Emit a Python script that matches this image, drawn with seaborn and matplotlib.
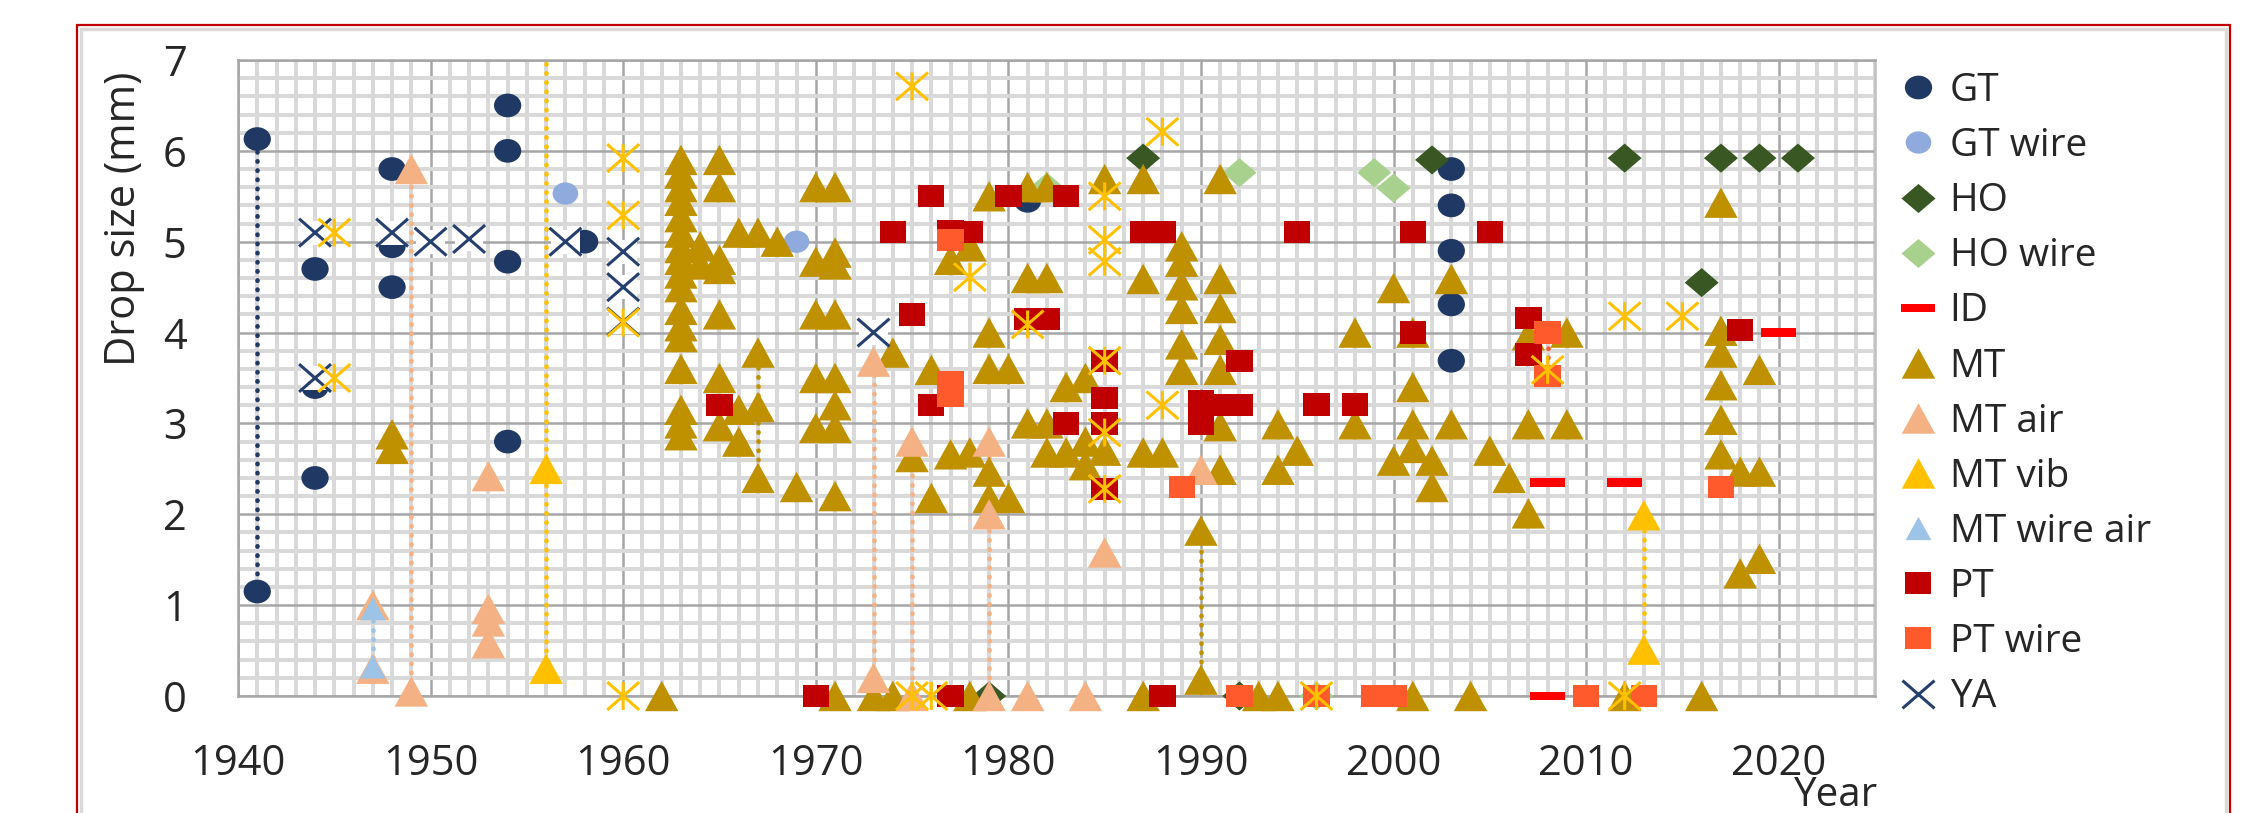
import numpy as np
import matplotlib
matplotlib.use("Agg")
import matplotlib.pyplot as plt
import seaborn as sns
from matplotlib.path import Path
from matplotlib.markers import MarkerStyle
from matplotlib.lines import Line2D
from matplotlib.patches import Rectangle
from matplotlib.ticker import MultipleLocator

# ---------------------------------------------------------------- data
GT_YEAR = [1941, 1941, 1944, 1944, 1944, 1948, 1948, 1948, 1954, 1954, 1954, 1954,
           1958, 1981, 2003, 2003, 2003, 2003, 2003]
GT_SIZE = [6.13, 1.15, 4.70, 3.40, 2.40, 5.80, 4.95, 4.50, 6.50, 6.00, 4.78, 2.80,
           5.00, 5.45, 5.80, 5.40, 4.90, 4.31, 3.69]

GT_WIRE_YEAR = [1957, 1969]
GT_WIRE_SIZE = [5.53, 5.00]

HO_YEAR = [1979, 1987, 1992, 2002, 2012, 2016, 2017, 2019, 2021]
HO_SIZE = [0.00, 5.92, 0.00, 5.90, 5.92, 4.55, 5.92, 5.92, 5.92]

HO_WIRE_YEAR = [1982, 1992, 1996, 1999, 2000]
HO_WIRE_SIZE = [5.60, 5.76, 0.00, 5.76, 5.59]

ID_YEAR = [2008, 2008, 2012, 2020]
ID_SIZE = [2.35, 0.00, 2.35, 4.00]

MT_YEAR = [1948, 1948, 1962,
           1963, 1963, 1963, 1963, 1963, 1963, 1963, 1963, 1963, 1963, 1963, 1963,
           1963, 1963, 1963, 1963, 1963,
           1964, 1964,
           1965, 1965, 1965, 1965, 1965, 1965, 1965,
           1966, 1966, 1966,
           1967, 1967, 1967, 1967,
           1968, 1969,
           1970, 1970, 1970, 1970, 1970,
           1971, 1971, 1971, 1971, 1971, 1971, 1971, 1971, 1971,
           1973, 1974, 1974, 1975, 1976, 1976, 1977, 1977, 1978, 1978, 1978,
           1979, 1979, 1979, 1979, 1979, 1980, 1980,
           1981, 1981, 1981, 1982, 1982, 1982, 1982, 1983, 1983,
           1984, 1984, 1984, 1985, 1985,
           1987, 1987, 1987, 1987, 1988,
           1989, 1989, 1989, 1989, 1989, 1989,
           1990, 1990,
           1991, 1991, 1991, 1991, 1991, 1991, 1991,
           1993, 1994, 1994, 1994, 1995,
           1998, 1998, 2000, 2000,
           2001, 2001, 2001, 2001, 2001,
           2002, 2002, 2003, 2003, 2004, 2005, 2006,
           2007, 2007, 2007, 2009, 2009, 2012, 2016,
           2017, 2017, 2017, 2017, 2017, 2017,
           2018, 2018, 2019, 2019, 2019]
MT_SIZE = [2.88, 2.72, 0.00,
           5.90, 5.75, 5.60, 5.45, 5.27, 5.10, 4.93, 4.80, 4.65, 4.50, 4.25, 4.07,
           3.95, 3.60, 3.15, 3.00, 2.87,
           4.95, 4.75,
           5.90, 5.60, 4.80, 4.70, 4.20, 3.50, 2.97,
           5.10, 3.15, 2.80,
           5.10, 3.78, 3.18, 2.40,
           5.00, 2.30,
           5.60, 4.78, 4.20, 3.50, 2.95,
           5.60, 4.88, 4.75, 4.20, 3.50, 3.20, 2.95, 2.20, 0.00,
           0.00, 3.78, 0.00, 2.63, 3.59, 2.18, 4.80, 2.66, 4.95, 2.68, 0.00,
           5.50, 4.00, 3.60, 2.47, 2.18, 3.60, 2.18,
           5.60, 4.60, 3.00, 5.60, 4.60, 3.00, 2.68, 3.40, 2.68,
           3.50, 2.80, 2.54, 5.69, 2.70,
           5.69, 4.59, 2.68, 0.00, 2.68,
           4.95, 4.78, 4.52, 4.26, 3.87, 3.59,
           1.82, 0.18,
           5.69, 4.59, 4.27, 3.92, 3.59, 2.97, 2.49,
           0.00, 2.99, 2.49, 0.00, 2.70,
           4.00, 2.99, 4.49, 2.59,
           4.00, 3.40, 2.99, 2.73, 0.00,
           2.59, 2.30, 4.59, 2.99, 0.00, 2.70, 2.40,
           3.97, 2.99, 2.01, 4.00, 2.99, 0.00, 0.00,
           5.43, 4.02, 3.78, 3.42, 3.04, 2.66,
           2.47, 1.35, 3.59, 2.47, 1.51]

MT_AIR_YEAR = [1947, 1947, 1949, 1949, 1953, 1953, 1953, 1953, 1973, 1973,
               1975, 1975, 1979, 1979, 1979, 1981, 1984, 1985, 1990]
MT_AIR_SIZE = [1.00, 0.30, 5.80, 0.05, 2.42, 0.96, 0.82, 0.58, 3.68, 0.20,
               2.80, 0.00, 2.80, 2.00, 0.00, 0.00, 0.00, 1.58, 2.49]

MT_VIB_YEAR = [1956, 1956, 2013, 2013]
MT_VIB_SIZE = [2.50, 0.30, 1.99, 0.51]

MT_WIRE_AIR_YEAR = [1947, 1947]
MT_WIRE_AIR_SIZE = [0.96, 0.32]

PT_YEAR = [1965, 1970, 1974, 1975, 1976, 1976, 1977, 1977, 1978, 1980, 1981, 1982,
           1983, 1983, 1985, 1985, 1985, 1985, 1987, 1988, 1988, 1990, 1990, 1991,
           1992, 1992, 1995, 1996, 1998, 2001, 2001, 2005, 2007, 2007, 2018]
PT_SIZE = [3.20, 0.00, 5.11, 4.20, 5.50, 3.20, 5.12, 0.00, 5.11, 5.50, 4.15, 4.15,
           5.50, 3.00, 3.69, 3.28, 3.00, 2.28, 5.11, 5.11, 0.00, 3.25, 3.00, 3.20,
           3.69, 3.20, 5.11, 3.21, 3.21, 5.11, 4.00, 5.11, 4.16, 3.76, 4.03]

PT_WIRE_YEAR = [1977, 1977, 1977, 1989, 1992, 1996, 1999, 2000, 2008, 2008, 2010, 2013, 2017]
PT_WIRE_SIZE = [5.02, 3.45, 3.30, 2.30, 0.00, 0.00, 0.00, 0.00, 4.00, 3.52, 0.00, 0.00, 2.30]

YA_YEAR = [1944, 1944, 1948, 1950, 1952, 1957, 1960, 1960, 1960, 1973]
YA_SIZE = [5.10, 3.50, 5.10, 5.00, 5.03, 5.00, 4.89, 4.50, 4.12, 4.00]

# asterisk points (no legend entry)
STAR_YEAR = [1945, 1945, 1960, 1960, 1960, 1960, 1975, 1975, 1976, 1978, 1981,
             1985, 1985, 1985, 1985, 1985, 1985, 1988, 1988, 1996, 2008, 2012, 2012, 2015]
STAR_SIZE = [5.10, 3.50, 5.92, 5.29, 4.11, 0.00, 6.71, 0.00, 0.00, 4.61, 4.09,
             5.50, 5.02, 4.78, 3.69, 2.90, 2.28, 6.21, 3.20, 0.00, 3.59, 4.18, 0.00, 4.18]

# dotted range lines: year, low, high, series they belong to
RANGE_YEAR = [1941, 1947, 1949, 1956, 1967, 1973, 1975, 1979, 1990, 2008, 2013]
RANGE_LOW = [1.15, 0.32, 0.05, 0.30, 2.40, 0.20, 0.00, 0.00, 0.18, 3.52, 0.51]
RANGE_HIGH = [6.13, 0.96, 5.80, 7.00, 3.78, 3.68, 2.80, 2.80, 1.82, 4.00, 1.99]
RANGE_SERIES = ["GT", "MT wire air", "MT air", "MT vib", "MT", "MT air", "MT air",
                "MT air", "MT", "PT wire", "MT vib"]

YEAR_TICKS = [1940, 1950, 1960, 1970, 1980, 1990, 2000, 2010, 2020]

# ---------------------------------------------------------------- marker shapes
STRETCH = 1.15


def closed(verts):
    return Path(verts + [verts[0]], closed=True)


ELLIPSE = Path.unit_circle().transformed(matplotlib.transforms.Affine2D().scale(STRETCH, 1.0))
TRIANGLE = closed([(0, 1), (-1.1, -1), (1.1, -1)])
SQUARE = closed([(-1.18, -1), (1.18, -1), (1.18, 1), (-1.18, 1)])
DIAMOND = closed([(0, 1), (1.17, 0), (0, -1), (-1.17, 0)])
DASH = closed([(-1, -0.25), (1, -0.25), (1, 0.25), (-1, 0.25)])
CROSS = Path([(-STRETCH, -1), (STRETCH, 1), (-STRETCH, 1), (STRETCH, -1)],
             [Path.MOVETO, Path.LINETO, Path.MOVETO, Path.LINETO])
STAR = Path([(0, -1), (0, 1), (-STRETCH, -1), (STRETCH, 1), (-STRETCH, 1), (STRETCH, -1)],
            [Path.MOVETO, Path.LINETO, Path.MOVETO, Path.LINETO, Path.MOVETO, Path.LINETO])

NAVY = "#203864"
STYLE = {
    # name: (years, sizes, colour, marker, area in pt^2, line art)
    "GT": (GT_YEAR, GT_SIZE, NAVY, ELLIPSE, 385, False),
    "GT wire": (GT_WIRE_YEAR, GT_WIRE_SIZE, "#8faadc", ELLIPSE, 340, False),
    "HO": (HO_YEAR, HO_SIZE, "#385723", DIAMOND, 600, False),
    "HO wire": (HO_WIRE_YEAR, HO_WIRE_SIZE, "#a9d18e", DIAMOND, 600, False),
    "ID": (ID_YEAR, ID_SIZE, "#ff0000", DASH, 635, False),
    "MT": (MT_YEAR, MT_SIZE, "#bf9000", TRIANGLE, 580, False),
    "MT air": (MT_AIR_YEAR, MT_AIR_SIZE, "#f4b183", TRIANGLE, 580, False),
    "MT vib": (MT_VIB_YEAR, MT_VIB_SIZE, "#ffc000", TRIANGLE, 580, False),
    "MT wire air": (MT_WIRE_AIR_YEAR, MT_WIRE_AIR_SIZE, "#9dc3e6", TRIANGLE, 340, False),
    "PT": (PT_YEAR, PT_SIZE, "#c00000", SQUARE, 360, False),
    "PT wire": (PT_WIRE_YEAR, PT_WIRE_SIZE, "#ff5a2b", SQUARE, 360, False),
    "YA": (YA_YEAR, YA_SIZE, "#253f6e", CROSS, 530, True),
}
STAR_COLOR = "#ffc000"

# ---------------------------------------------------------------- figure
sns.set_style("white")
plt.rcParams["font.family"] = ["Open Sans", "DejaVu Sans"]

W, H = 2248, 813
fig = plt.figure(figsize=(W / 100, H / 100), dpi=100)
ax = fig.add_axes([238 / W, (H - 696) / H, (1875 - 238) / W, 636 / H])

ax.set_xlim(1940, 2025)
ax.set_ylim(0, 7)
ax.set_xticks(YEAR_TICKS)
ax.set_xticklabels([str(y) for y in YEAR_TICKS])
ax.xaxis.set_minor_locator(MultipleLocator(1))
ax.yaxis.set_major_locator(MultipleLocator(1))
ax.yaxis.set_minor_locator(MultipleLocator(0.2))
ax.set_axisbelow(True)
ax.grid(which="minor", color="#d9d9d9", lw=2.9)
ax.grid(which="major", color="#a6a6a6", lw=1.8)
ax.tick_params(which="both", length=0)
ax.tick_params(axis="x", pad=34, labelsize=30)
ax.tick_params(axis="y", pad=37, labelsize=30)
for side, sp in ax.spines.items():
    sp.set_color("#bfbfbf" if side == "right" else "#a6a6a6")
    sp.set_linewidth(1.8)

# dotted range lines
for yr, lo, hi, ser in zip(RANGE_YEAR, RANGE_LOW, RANGE_HIGH, RANGE_SERIES):
    ax.plot([yr, yr], [lo, hi], color=STYLE[ser][2], lw=3.3,
            linestyle=(0, (0.1, 1.9)), dash_capstyle="round", zorder=2)

# scatter series in drawing order
z = 3
for name, (xs, ys, col, mk, s, line_art) in STYLE.items():
    if line_art:
        # white backing behind the crosses
        sns.scatterplot(x=xs, y=ys, ax=ax, marker=SQUARE, s=s * 0.8, color="white",
                        linewidth=0, edgecolor="none", zorder=z, clip_on=False, legend=False)
        sns.scatterplot(x=xs, y=ys, ax=ax, marker=mk, s=s, color=col, facecolors="none",
                        edgecolor=col, linewidth=2.2, zorder=z + 0.5, clip_on=False, legend=False)
    else:
        sns.scatterplot(x=xs, y=ys, ax=ax, marker=mk, s=s, color=col,
                        linewidth=0, edgecolor="none", zorder=z, clip_on=False, legend=False)
    z += 1

sns.scatterplot(x=STAR_YEAR, y=STAR_SIZE, ax=ax, marker=STAR, s=530, color=STAR_COLOR,
                facecolors="none", edgecolor=STAR_COLOR, linewidth=2.2, zorder=z + 1,
                clip_on=False, legend=False)

ax.set_xlabel("")
ax.set_ylabel("")
fig.text(124 / W, 1 - 219 / H, "Drop size (mm)", rotation=90, ha="center", va="center",
         fontsize=30)
fig.text(1836 / W, 1 - 806 / H, "Year", ha="center", va="baseline", fontsize=29)

# legend
handles = []
for name, (xs, ys, col, mk, s, line_art) in STYLE.items():
    if line_art:
        h = Line2D([], [], linestyle="none", marker=MarkerStyle(mk), markersize=np.sqrt(s),
                   markerfacecolor="none", markeredgecolor=col, markeredgewidth=2.2, label=name)
    else:
        h = Line2D([], [], linestyle="none", marker=MarkerStyle(mk), markersize=np.sqrt(s),
                   markerfacecolor=col, markeredgewidth=0, label=name)
    handles.append(h)
fig.legend(handles=handles, loc="upper left", bbox_to_anchor=(1899 / W, 1 - 72 / H),
           frameon=False, fontsize=28, handlelength=0.96, handletextpad=0.34,
           labelspacing=0.44, borderpad=0, borderaxespad=0)

# outer frame
fig.add_artist(Rectangle((81 / W, -0.05), (2226 - 81) / W, (H - 29) / H + 0.05,
                         transform=fig.transFigure, fill=False, edgecolor="#dadada", lw=2.5))
fig.add_artist(Rectangle((77 / W, -0.05), (2230 - 77) / W, (H - 25) / H + 0.05,
                         transform=fig.transFigure, fill=False, edgecolor="#c00000", lw=1.6))

fig.savefig("out.png", dpi=100, facecolor="white")
